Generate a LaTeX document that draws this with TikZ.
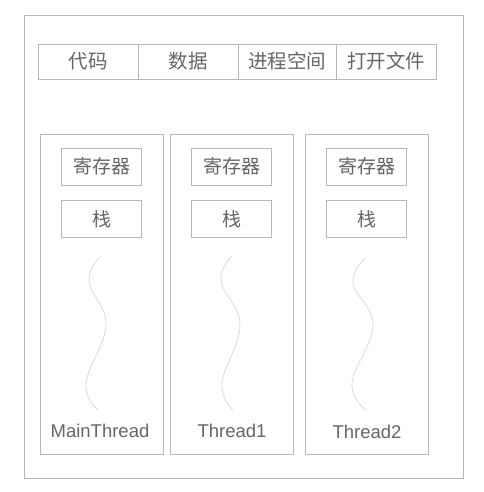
\documentclass[tikz,border=0pt]{standalone}
\usepackage{fontspec}
\setmainfont{Liberation Sans}
\newfontfamily\cjk{Noto Sans CJK SC}
\begin{document}
\begin{tikzpicture}[x=1pt,y=-1pt,
  linegray/.style={draw=black!28, line width=0.7pt},
  cell/.style={linegray, minimum width=100pt, minimum height=35pt, inner sep=0pt, anchor=center,
    text=black!60, font=\cjk\fontsize{19.5}{19.5}\selectfont},
  threadbox/.style={linegray, minimum width=123pt, minimum height=320pt, inner sep=0pt, anchor=north},
  inbox/.style={linegray, minimum width=80pt, minimum height=37pt, inner sep=0pt, anchor=north,
    text=black!60, font=\cjk\fontsize{19}{19}\selectfont},
  tlabel/.style={text=black!60, font=\fontsize{18.5}{18.5}\selectfont, inner sep=0pt},
  wave/.style={draw=black!18, line width=0.6pt}]
\useasboundingbox (0,0) rectangle (483,492);
\fill[white] (0,0) rectangle (483,492);
% outer process box
\node[linegray, minimum width=439pt, minimum height=463pt, inner sep=0pt, anchor=north west] (proc) at (24,15) {};
% top row
\node[cell, minimum width=100pt] (code) at (88,61.5) {代码};
\node[cell, minimum width=100pt] (data) at (188,61.5) {数据};
\node[cell, minimum width=98pt] (space) at (287,61.5) {进程空间};
\node[cell, minimum width=100pt] (files) at (386,61.5) {打开文件};
% threads
\node[threadbox] (t0) at (101.5,134) {};
\node[threadbox] (t1) at (231.5,134) {};
\node[threadbox] (t2) at (366.5,134) {};
\foreach \n/\c in {0/101.5,1/231.5,2/366.5}{
  \node[inbox] (r\n) at (\c,147.5) {寄存器};
  \node[inbox] (s\n) at (\c,200) {栈};
}
\node[tlabel] (l0) at (100,431) {MainThread};
\node[tlabel] (l1) at (232,431) {Thread1};
\node[tlabel] (l2) at (367,432) {Thread2};
% waves
\draw[wave] plot[smooth, tension=0.7] coordinates {(101,256) (89,281) (106,325) (86,383) (98,410)};
\draw[wave] plot[smooth, tension=0.7] coordinates {(232,256) (221,281) (240,325) (222,383) (233,410)};
\draw[wave] plot[smooth, tension=0.7] coordinates {(366,257) (353,283) (373,325) (352,383) (366,410)};
\end{tikzpicture}
\end{document}
